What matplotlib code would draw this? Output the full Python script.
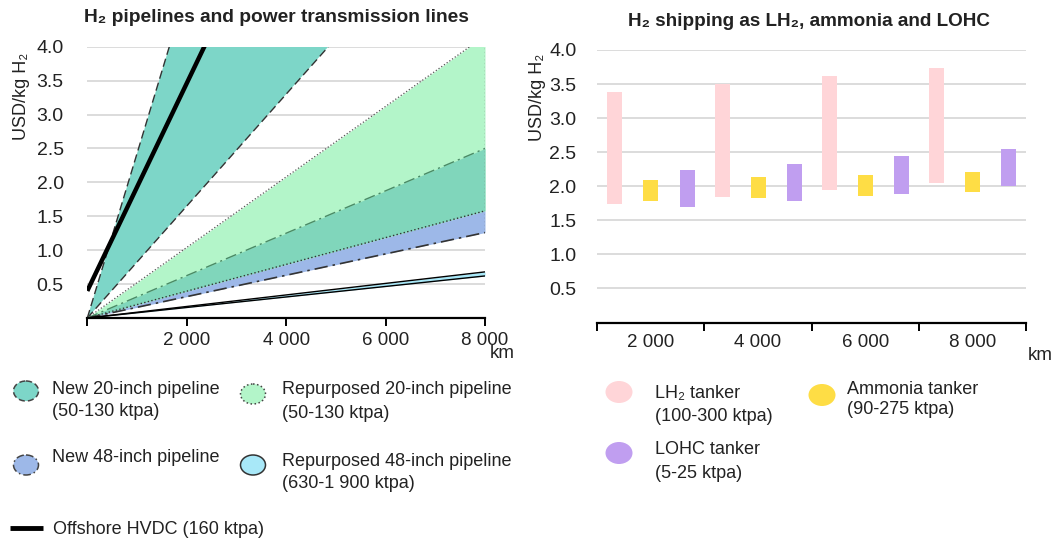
import numpy as np
import matplotlib
matplotlib.use("Agg")
import matplotlib.pyplot as plt
from matplotlib.patches import Ellipse

plt.rcParams['font.family'] = ['Liberation Sans', 'DejaVu Sans']

# Left panel: cost lines, values at 0 km and 8 000 km (USD/kg H2)
dist = [0, 8000]
new20_hi = [0, 19.4]
new20_lo = [0, 6.6]
rep20_hi = [0, 4.16]
rep20_lo = [0, 1.58]
new48_hi = [0, 2.5]
new48_lo = [0, 1.26]
rep48_hi = [0, 0.68]
rep48_lo = [0, 0.62]
hvdc = [0.4, 12.64]

# Right panel: shipping ranges
ship_km = ['2 000', '4 000', '6 000', '8 000']
lh2_lo = [1.74, 1.84, 1.95, 2.05]
lh2_hi = [3.39, 3.50, 3.62, 3.74]
nh3_lo = [1.79, 1.83, 1.86, 1.91]
nh3_hi = [2.09, 2.14, 2.16, 2.21]
lohc_lo = [1.70, 1.78, 1.89, 2.01]
lohc_hi = [2.24, 2.33, 2.44, 2.55]

yticks = [0.5, 1.0, 1.5, 2.0, 2.5, 3.0, 3.5, 4.0]

c_new20 = '#7dd6c8'
c_rep20 = '#b3f5c9'
c_new48 = '#9db8e8'
c_overlap = '#80d6bb'
c_rep48 = '#a8e8f8'
c_lh2 = '#ffd5d8'
c_nh3 = '#fedd45'
c_lohc = '#c09ef0'
grid_c = '#dcdcdc'
txt_c = '#222222'

W, H = 1054, 541
fig = plt.figure(figsize=(W / 100, H / 100), dpi=100)


def px_axes(l, t, r, b):
    return fig.add_axes([l / W, 1 - b / H, (r - l) / W, (b - t) / H])


# ---------- left panel ----------
ax1 = px_axes(87.3, 46.7, 485, 318)
ax1.set_xlim(0, 8000)
ax1.set_ylim(0, 4.0)
for v in yticks:
    ax1.axhline(v, color=grid_c, lw=1.4, zorder=0)

ax1.fill_between(dist, new20_lo, new20_hi, color=c_new20, lw=0, zorder=1)
ax1.plot(dist, new20_hi, color='#333333', lw=1, ls=(0, (6, 3)), zorder=3)
ax1.plot(dist, new20_lo, color='#333333', lw=1, ls=(0, (6, 3)), zorder=3)

ax1.fill_between(dist, rep20_lo, rep20_hi, color=c_rep20, lw=0, zorder=1)
ax1.fill_between(dist, new48_lo, rep20_lo, color=c_new48, lw=0, zorder=1)
ax1.fill_between(dist, rep20_lo, new48_hi, color=c_overlap, lw=0, zorder=1)
ax1.plot(dist, rep20_hi, color='#555555', lw=0.9, ls=':', zorder=3)
ax1.plot(dist, rep20_lo, color='#333333', lw=1, ls=':', zorder=3)
ax1.plot(dist, new48_hi, color='#4a8a66', lw=1, ls=(0, (8, 3, 1.5, 3)), zorder=3)
ax1.plot(dist, new48_lo, color='#333333', lw=1.2, ls=(0, (8, 3, 1.5, 3)), zorder=3)
ax1.plot([dist[1], dist[1]], [new48_lo[1], 4.0], color='#777777', lw=1, ls=':', zorder=3)

ax1.fill_between(dist, rep48_lo, rep48_hi, color=c_rep48, lw=0, zorder=2)
ax1.plot(dist, rep48_hi, color='black', lw=1, zorder=3)
ax1.plot(dist, rep48_lo, color='black', lw=1, zorder=3)

ax1.plot(dist, hvdc, color='black', lw=3.2, solid_capstyle='butt', zorder=4)

ax1.set_xticks([0, 2000, 4000, 6000, 8000])
ax1.set_xticklabels(['', '2 000', '4 000', '6 000', '8 000'])
ax1.set_yticks(yticks)
ax1.set_yticklabels([f'{v:.1f}' for v in yticks])
for s in ['top', 'right', 'left']:
    ax1.spines[s].set_visible(False)
ax1.spines['bottom'].set_linewidth(1.6)
ax1.tick_params(axis='x', length=6, width=1.4, labelsize=13.5, labelcolor=txt_c, pad=4)
ax1.tick_params(axis='y', length=0, labelsize=14, labelcolor=txt_c, pad=17)

# ---------- right panel ----------
ax2 = px_axes(597.3, 50, 1026, 322.5)
ax2.set_xlim(-0.5, len(ship_km) - 0.5)
ax2.set_ylim(0, 4.0)
for v in yticks:
    ax2.axhline(v, color=grid_c, lw=1.4, zorder=0)

x = np.arange(len(ship_km))
bw = 0.14
ax2.bar(x - 0.335, np.array(lh2_hi) - np.array(lh2_lo), bottom=lh2_lo, width=bw, color=c_lh2, zorder=2)
ax2.bar(x, np.array(nh3_hi) - np.array(nh3_lo), bottom=nh3_lo, width=bw, color=c_nh3, zorder=2)
ax2.bar(x + 0.34, np.array(lohc_hi) - np.array(lohc_lo), bottom=lohc_lo, width=bw, color=c_lohc, zorder=2)

ax2.set_xticks(x)
ax2.set_xticklabels(ship_km)
ax2.set_xticks(np.arange(len(ship_km) + 1) - 0.5, minor=True)
ax2.tick_params(axis='x', which='major', length=0, labelsize=13.5, labelcolor=txt_c, pad=8)
ax2.tick_params(axis='x', which='minor', length=6, width=1.4)
ax2.set_yticks(yticks)
ax2.set_yticklabels([f'{v:.1f}' for v in yticks])
ax2.tick_params(axis='y', length=0, labelsize=14, labelcolor=txt_c, pad=15)
for s in ['top', 'right', 'left']:
    ax2.spines[s].set_visible(False)
ax2.spines['bottom'].set_linewidth(1.6)

# ---------- texts and legends (pixel overlay) ----------
lg = fig.add_axes([0, 0, 1, 1], facecolor='none')
lg.set_xlim(0, W)
lg.set_ylim(H, 0)
lg.axis('off')

lg.text(276, 18, 'H₂ pipelines and power transmission lines', fontsize=13.8,
        fontweight='bold', ha='center', va='center', color=txt_c)
lg.text(809, 22, 'H₂ shipping as LH₂, ammonia and LOHC', fontsize=13.6,
        fontweight='bold', ha='center', va='center', color=txt_c)
lg.text(22, 96, 'USD/kg H₂', rotation=90, fontsize=13, ha='center', va='center', color=txt_c)
lg.text(537, 97, 'USD/kg H₂', rotation=90, fontsize=13, ha='center', va='center', color=txt_c)
lg.text(502, 354, 'km', fontsize=13.5, ha='center', va='center', color=txt_c)
lg.text(1040, 355, 'km', fontsize=13.5, ha='center', va='center', color=txt_c)


def marker(cx, cy, fc, ls='-', ec='none', w=25, h=20):
    lg.add_patch(Ellipse((cx, cy), w, h, facecolor=fc, edgecolor=ec, lw=1.1, ls=ls))


def label(x0, lines, y0, dy=22.5):
    for i, t in enumerate(lines):
        lg.text(x0, y0 + i * dy, t, fontsize=13, ha='left', va='center', color=txt_c)


marker(26, 391, c_new20, ls=(0, (4, 2)), ec='#444444')
label(52, ['New 20-inch pipeline', '(50-130 ktpa)'], 389)
marker(253, 394, c_rep20, ls=':', ec='#444444')
label(282, ['Repurposed 20-inch pipeline', '(50-130 ktpa)'], 389, 24.5)
marker(26, 465, c_new48, ls=(0, (5, 2, 1, 2)), ec='#444444')
label(52, ['New 48-inch pipeline'], 458)
marker(253, 465, c_rep48, ec='#333333')
label(282, ['Repurposed 48-inch pipeline', '(630-1 900 ktpa)'], 461, 22)
lg.plot([10, 43], [528, 528], color='black', lw=3.5, solid_capstyle='butt')
label(53, ['Offshore HVDC (160 ktpa)'], 529)

marker(619, 392, c_lh2, w=27, h=22)
label(655, ['LH₂ tanker', '(100-300 ktpa)'], 393, 23.5)
marker(822, 395, c_nh3, w=27, h=22)
label(847, ['Ammonia tanker', '(90-275 ktpa)'], 389, 21)
marker(619, 453, c_lohc, w=27, h=22)
label(655, ['LOHC tanker', '(5-25 ktpa)'], 450, 23)

fig.savefig('out.png', dpi=100)
